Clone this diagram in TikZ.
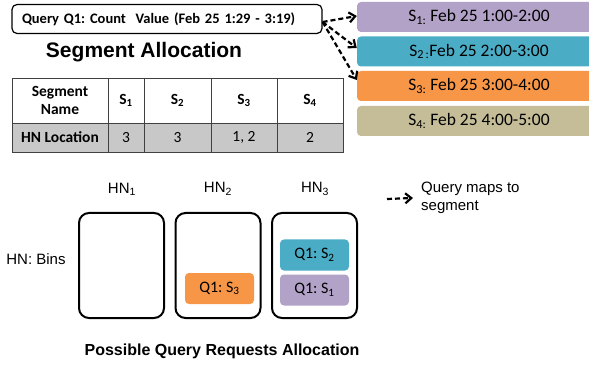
\documentclass[tikz,border=0pt]{standalone}
\usepackage{fontspec}
\setmainfont{Liberation Sans}
\newfontfamily\calib{Carlito}
\usetikzlibrary{arrows.meta}
\definecolor{segpurple}{HTML}{B3A2C7}
\definecolor{segteal}{HTML}{4BACC6}
\definecolor{segorange}{HTML}{F79646}
\definecolor{segtan}{HTML}{C4BD97}
\definecolor{tabgray}{HTML}{C8C8C8}
\frenchspacing

\begin{document}
\begin{tikzpicture}[x=1pt,y=-1pt,
  segbox/.style={rounded corners=4pt, minimum width=244pt, minimum height=30pt, inner sep=0pt, font=\calib\fontsize{17.5}{20}\selectfont},
  bin/.style={draw, line width=2pt, rounded corners=10pt, minimum width=85pt, minimum height=105pt},
  qbox/.style={rounded corners=4pt, minimum width=69pt, minimum height=31pt, inner sep=0pt, font=\calib\fontsize{16}{19}\selectfont},
  maps/.style={line width=2.2pt, dash pattern=on 5pt off 3pt, -{Straight Barb[length=6pt,width=10pt]}},
  cell/.style={font=\calib\bfseries\fontsize{15.5}{18}\selectfont, align=center},
  cellval/.style={font=\calib\fontsize{15.5}{18}\selectfont},
  hnlabel/.style={font=\fontsize{15}{18}\selectfont}]
\useasboundingbox (0,0) rectangle (589,366);
\node[draw, line width=1.2pt, rounded corners=5pt, text width=300pt, inner xsep=5pt, minimum height=29pt, align=left, font=\calib\bfseries\fontsize{14.5}{17}\selectfont] (query) at (167,19) {\hspace*{5pt}\mbox{Query Q1: Count\ \ Value (Feb 25 1:29 - 3:19)}};
\node[font=\bfseries\fontsize{21}{24}\selectfont] (segtitle) at (144,52) {Segment Allocation};
\node[segbox, fill=segpurple] (seg1) at (479,17) {S\textsubscript{1:} Feb 25 1:00-2:00};
\node[segbox, fill=segteal] (seg2) at (479,51.5) {S\textsubscript{2\,:}Feb 25 2:00-3:00};
\node[segbox, fill=segorange] (seg3) at (479,86) {S\textsubscript{3:} Feb 25 3:00-4:00};
\node[segbox, fill=segtan] (seg4) at (479,121) {S\textsubscript{4:} Feb 25 4:00-5:00};
\draw[maps] ([yshift=-3pt]query.east) -- ([yshift=1pt]seg1.west);
\draw[maps] ([yshift=-3pt]query.east) -- ([yshift=3.5pt]seg2.west);
\draw[maps] ([yshift=-3pt]query.east) -- ([yshift=6pt]seg3.west);
\fill[tabgray] (12,123) rectangle (343,152);
\draw[line width=0.9pt, black!75] (12,78) rectangle (343,152);
\draw[line width=0.9pt, black!75] (12,123) -- (343,123);
\foreach \x in {108,144,211,277}
  \draw[line width=0.9pt, black!75] (\x,78) -- (\x,152);
\node[cell] (hname) at (60,100.5) {Segment\\Name};
\node[cell] (hs1) at (126,100.5) {S\textsubscript{1}};
\node[cell] (hs2) at (177.5,100.5) {S\textsubscript{2}};
\node[cell] (hs3) at (244,100.5) {S\textsubscript{3}};
\node[cell] (hs4) at (310,100.5) {S\textsubscript{4}};
\node[cell] (hloc) at (60,137.5) {HN Location};
\node[cellval] (v1) at (126,137.5) {3};
\node[cellval] (v2) at (177.5,137.5) {3};
\node[cellval] (v3) at (244,137.5) {1, 2};
\node[cellval] (v4) at (310,137.5) {2};
\node[hnlabel] (hn1) at (122,189) {HN\textsubscript{1}};
\node[hnlabel] (hn2) at (218,189) {HN\textsubscript{2}};
\node[hnlabel] (hn3) at (315,189) {HN\textsubscript{3}};
\node[hnlabel] (bins) at (36,259) {HN: Bins};
\node[bin] (bin1) at (121.5,265.5) {};
\node[bin] (bin2) at (218,265.5) {};
\node[bin] (bin3) at (314.5,265.5) {};
\node[qbox, fill=segorange] (q3) at (219.5,288.5) {Q1: S\textsubscript{3}};
\node[qbox, fill=segteal] (q2) at (314.5,255) {Q1: S\textsubscript{2}};
\node[qbox, fill=segpurple] (q1) at (314.5,290) {Q1: S\textsubscript{1}};
\coordinate (legstart) at (387,199);
\node[hnlabel, anchor=west, align=left, inner sep=0pt] (legtxt) at (421,198) {Query maps to\\segment};
\draw[maps] (legstart) -- ([xshift=-8pt]legtxt.west);
\node[font=\bfseries\fontsize{16}{19}\selectfont] (alloctitle) at (222,351) {Possible Query Requests Allocation};
\end{tikzpicture}
\end{document}
